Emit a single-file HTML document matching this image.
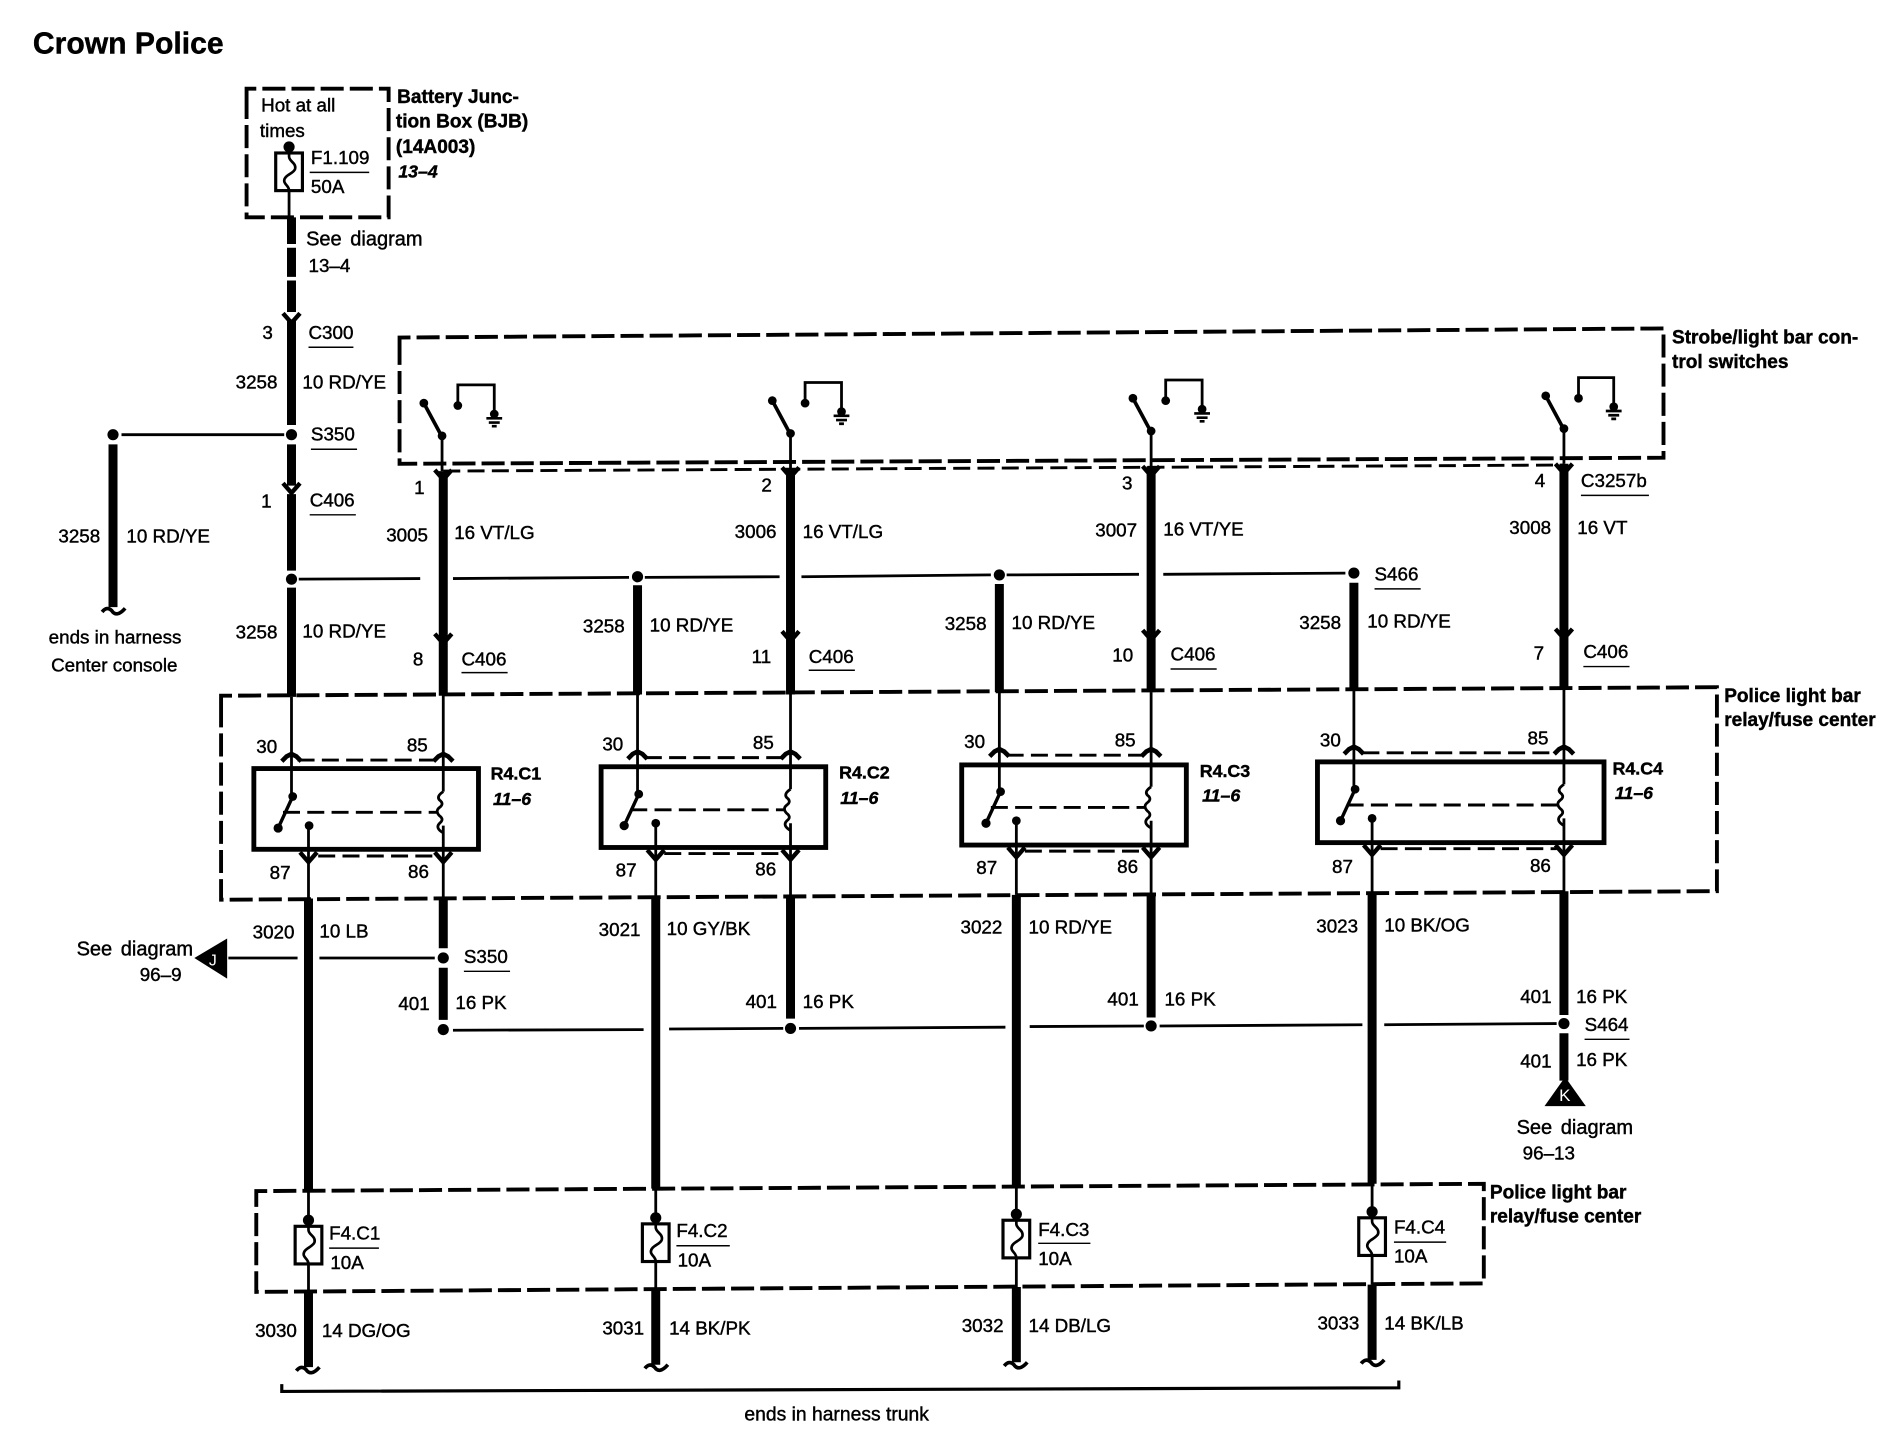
<!DOCTYPE html>
<html lang="en"><head><meta charset="utf-8"><title>Crown Police</title>
<style>
html,body{margin:0;padding:0;background:#fff;width:1904px;height:1440px;overflow:hidden}
svg{display:block}
text{font-family:"Liberation Sans",sans-serif;font-size:15.5px;fill:#000;stroke:#000;stroke-width:.35}
.b{font-weight:bold;font-size:15.7px;stroke-width:.35}
.c{font-weight:bold;font-size:14.7px;stroke-width:.35}
.i{font-weight:bold;font-style:italic;font-size:14.6px;stroke-width:.35}
.t{font-weight:bold;font-size:24.8px;stroke-width:.35}
.w{font-size:16.5px;word-spacing:2.5px}
.th{fill:none;stroke:#000;stroke-width:7.4}
.tn{fill:none;stroke:#000;stroke-width:2.3}
.bx{fill:none;stroke:#000;stroke-width:3.2;stroke-dasharray:19 5}
.sd{fill:none;stroke:#000;stroke-width:2.4;stroke-dasharray:14 6}
.u{fill:none;stroke:#000;stroke-width:1.2}
.r{fill:none;stroke:#000;stroke-width:4}
</style></head><body>
<svg xmlns="http://www.w3.org/2000/svg" width="1904" height="1440" viewBox="0 0 1568 1186">
<defs>
<polyline id="ad" points="-7,-8 0,0 7,-8" fill="none" stroke="#000" stroke-width="3.6"/>
<polyline id="au" points="-8,5 -4,1 0,-1 4,1 8,5" fill="none" stroke="#000" stroke-width="3.8"/>
<path id="wg" d="M-10 1 Q-6 -4 -2 0 Q2 6 9 -2" fill="none" stroke="#000" stroke-width="3"/>
<g id="gnd"><circle cx="0" cy="5" r="3.6"/><path d="M-6.5 8.5H6.5M-4.5 12H4.5M-2 15H2" fill="none" stroke="#000" stroke-width="2.2"/></g>
<g id="fu"><rect x="-11" y="0" width="22" height="31" fill="#fff" stroke="#000" stroke-width="2.6"/>
<path d="M0 -4V3C0 7 6 8 5 13C4 17 -4 18 -4 23C-4 26 0 27 0 31" fill="none" stroke="#000" stroke-width="2.2"/>
<circle cx="0" cy="-5" r="4.6"/></g>
<g id="sw"><path d="M-1 -1L-15 -27" fill="none" stroke="#000" stroke-width="3"/><circle cx="0" cy="0" r="3.6"/><circle cx="-15" cy="-27" r="3.6"/></g>
<g id="lv"><path d="M0 0L-12 26" fill="none" stroke="#000" stroke-width="2.8"/><circle cx="0" cy="0" r="3.6"/><circle cx="-12" cy="26" r="3.8"/></g>
<path id="co" d="M0 -6Q-6 -2 -3 1Q1 4 -3 7Q-7 10 -3 14Q1 17 -3 20Q-7 24 0 28" fill="none" stroke="#000" stroke-width="2.3"/>
</defs>
<rect width="1568" height="1186" fill="#fff"/>

<text class="t" x="27" y="44">Crown Police</text>

<!-- BJB -->
<path class="bx" d="M203 84V73H320V179H203V84"/>
<text x="215" y="92">Hot at all</text><text x="214" y="113">times</text>
<use href="#fu" x="238" y="126"/>
<path class="tn" d="M238 157V180"/>
<text x="256" y="135">F1.109</text><path class="u" d="M255 142H304"/><text x="256" y="159">50A</text>
<text class="b" x="327" y="85">Battery Junc-</text><text class="b" x="326" y="105">tion Box (BJB)</text><text class="b" x="326" y="126">(14A003)</text><text class="i" x="328" y="146">13–4</text>
<path class="th" d="M240 179V201M240 204V228M240 231V257M240 263V350M240 366V400M240 407V470M240 484V574"/>
<text class="w" x="252" y="202">See diagram</text><text x="254" y="224">13–4</text>
<use href="#ad" x="240" y="266"/><text x="216" y="279">3</text>
<text x="254" y="279">C300</text><path class="u" d="M254 286H291"/>
<text x="194" y="320">3258</text><text x="249" y="320">10 RD/YE</text>
<circle cx="240" cy="358" r="4.6"/><path class="tn" d="M100 358H234"/>
<circle cx="93" cy="358" r="4.6"/>
<text x="256" y="363">S350</text><path class="u" d="M256 370H294"/>
<path class="th" d="M93 366V500"/><use href="#wg" x="94" y="503"/>
<text x="48" y="447">3258</text><text x="104" y="447">10 RD/YE</text>
<text x="40" y="530">ends in harness</text><text x="42" y="553">Center console</text>
<use href="#ad" x="240" y="406"/><text x="215" y="418">1</text>
<text x="255" y="417">C406</text><path class="u" d="M255 424H293"/>
<text x="194" y="526">3258</text><text x="249" y="525">10 RD/YE</text>

<!-- bus S466 -->
<circle cx="240" cy="477" r="4.6"/><circle cx="525" cy="475" r="4.6"/><circle cx="823" cy="473.5" r="4.6"/><circle cx="1115" cy="472" r="4.6"/>
<path class="tn" d="M246 477L346 476.5M373 476.5L518 475.5M531 475.5L642 475M660 475L816 473.5M829 473.5L938 473M958 473L1108 472"/>
<text x="1132" y="478">S466</text><path class="u" d="M1132 485H1170"/>

<!-- strobe box -->
<path class="bx" d="M329 288V278L1370 270.5V377L329 382V288"/>
<text class="b" x="1377" y="283">Strobe/light bar con-</text><text class="b" x="1377" y="303">trol switches</text>
<path class="sd" d="M365 388L1288 383"/>

<!-- switches -->
<use href="#sw" x="364" y="359"/><path class="tn" d="M364 359V388M377 335V317H407V342"/><circle cx="377" cy="334" r="3.6"/><use href="#gnd" x="407" y="336"/>
<use href="#sw" x="651" y="357"/><path class="tn" d="M651 357V386M663 333V315H693V340"/><circle cx="663" cy="332" r="3.6"/><use href="#gnd" x="693" y="334"/>
<use href="#sw" x="948" y="355"/><path class="tn" d="M948 355V384M960 331V313H990V338"/><circle cx="960" cy="330" r="3.6"/><use href="#gnd" x="990" y="332"/>
<use href="#sw" x="1288" y="353"/><path class="tn" d="M1288 353V382M1300 329V311H1329V336"/><circle cx="1300" cy="328" r="3.6"/><use href="#gnd" x="1329" y="330"/>
<use href="#ad" x="365" y="395"/><use href="#ad" x="651" y="393"/><use href="#ad" x="948" y="392"/><use href="#ad" x="1288" y="390"/>

<!-- upper thick wires -->
<path class="th" d="M365 388V573M651 386V572M948 384V570M1288 382V568M525 482V572M823 481V570M1115 480V568"/>
<use href="#ad" x="365" y="530"/><use href="#ad" x="651" y="528"/><use href="#ad" x="948" y="527"/><use href="#ad" x="1288" y="526"/>

<text x="341" y="407">1</text><text x="318" y="446">3005</text><text x="374" y="444">16 VT/LG</text><text x="340" y="548">8</text><text x="380" y="548">C406</text><path class="u" d="M380 554H418"/>
<text x="627" y="405">2</text><text x="605" y="443">3006</text><text x="661" y="443">16 VT/LG</text><text x="619" y="546">11</text><text x="666" y="546">C406</text><path class="u" d="M666 552H704"/>
<text x="924" y="403">3</text><text x="902" y="442">3007</text><text x="958" y="441">16 VT/YE</text><text x="916" y="545">10</text><text x="964" y="544">C406</text><path class="u" d="M964 551H1002"/>
<text x="1264" y="401">4</text><text x="1302" y="401">C3257b</text><path class="u" d="M1302 408H1358"/><text x="1243" y="440">3008</text><text x="1299" y="440">16 VT</text><text x="1263" y="543">7</text><text x="1304" y="542">C406</text><path class="u" d="M1304 549H1342"/>
<text x="480" y="521">3258</text><text x="535" y="520">10 RD/YE</text>
<text x="778" y="519">3258</text><text x="833" y="518">10 RD/YE</text>
<text x="1070" y="518">3258</text><text x="1126" y="517">10 RD/YE</text>

<!-- police relay box -->
<path class="bx" d="M182 583V573L1414 566V734L182 741V583"/>
<text class="b" x="1420" y="578">Police light bar</text><text class="b" x="1420" y="598">relay/fuse center</text>

<!-- relay 1 -->
<path class="tn" d="M240 574V656M365 573V652M365 680V741M254 680V741"/>
<rect class="r" x="209" y="633" width="185" height="66.5"/>
<use href="#lv" x="241" y="656"/><circle cx="254.5" cy="680" r="3.6"/><use href="#co" x="365" y="658"/>
<path class="sd" d="M233 669H361" stroke-dasharray="15 6"/><path class="sd" d="M245 626H358M262 705H358"/>
<use href="#au" x="240" y="622"/><use href="#au" x="365" y="622"/><use href="#ad" x="254" y="710"/><use href="#ad" x="365" y="710"/>
<text x="211" y="620">30</text><text x="335" y="619">85</text><text x="222" y="724">87</text><text x="336" y="723">86</text>
<text class="c" x="404" y="642">R4.C1</text><text class="i" x="406" y="663">11–6</text>
<!-- relay 2 -->
<path class="tn" d="M525 572V654M651 572V650M651 678V739M540 678V739"/>
<rect class="r" x="495" y="631.5" width="185" height="66.5"/>
<use href="#lv" x="526" y="654"/><circle cx="540" cy="678" r="3.6"/><use href="#co" x="651" y="656"/>
<path class="sd" d="M519 667H647"/><path class="sd" d="M531 624H645M547 703H645"/>
<use href="#au" x="525" y="620"/><use href="#au" x="651" y="620"/><use href="#ad" x="540" y="708"/><use href="#ad" x="651" y="708"/>
<text x="496" y="618">30</text><text x="620" y="617">85</text><text x="507" y="722">87</text><text x="622" y="721">86</text>
<text class="c" x="691" y="641">R4.C2</text><text class="i" x="692" y="662">11–6</text>
<!-- relay 3 -->
<path class="tn" d="M823 570V652M948 570V648M948 676V737M837 676V737"/>
<rect class="r" x="792" y="630" width="185" height="66"/>
<use href="#lv" x="824" y="652"/><circle cx="837" cy="676" r="3.6"/><use href="#co" x="948" y="654"/>
<path class="sd" d="M816 665H944"/><path class="sd" d="M829 622H942M844 701H942"/>
<use href="#au" x="823" y="618"/><use href="#au" x="948" y="618"/><use href="#ad" x="837" y="706"/><use href="#ad" x="948" y="706"/>
<text x="794" y="616">30</text><text x="918" y="615">85</text><text x="804" y="720">87</text><text x="920" y="719">86</text>
<text class="c" x="988" y="640">R4.C3</text><text class="i" x="990" y="660">11–6</text>
<!-- relay 4 -->
<path class="tn" d="M1115 568V650M1288 568V646M1288 674V735M1130 674V735"/>
<rect class="r" x="1085" y="627.5" width="236" height="66.5"/>
<use href="#lv" x="1116" y="650"/><circle cx="1130" cy="674" r="3.6"/><use href="#co" x="1288" y="652"/>
<path class="sd" d="M1109 663H1284"/><path class="sd" d="M1122 620H1282M1137 699H1282"/>
<use href="#au" x="1115" y="616"/><use href="#au" x="1288" y="616"/><use href="#ad" x="1130" y="704"/><use href="#ad" x="1288" y="704"/>
<text x="1087" y="615">30</text><text x="1258" y="613">85</text><text x="1097" y="719">87</text><text x="1260" y="718">86</text>
<text class="c" x="1328" y="638">R4.C4</text><text class="i" x="1330" y="658">11–6</text>

<!-- lower wires -->
<path class="th" d="M254 740V981M540 739V979M837 737V977M1130 735V975"/>
<path class="th" d="M365 740V781M365 797V840M651 739V839M948 737V838M1288 734V836M1288 851V890"/>
<circle cx="365" cy="789" r="4.6"/><circle cx="365" cy="848" r="4.6"/><circle cx="651" cy="847" r="4.6"/><circle cx="948" cy="845" r="4.6"/><circle cx="1288" cy="843" r="4.6"/>
<path class="tn" d="M373 848.5L530 848M551 847.5L645 847M658 847L828 846M848 845.5L942 845M955 845L1122 844M1140 844L1282 843"/>
<path class="tn" d="M188 789H245M263 789H358"/>
<polygon points="187,773 187,806 160,789"/><text x="172" y="795" style="fill:#fff;stroke:none;font-size:13px">J</text>
<polygon points="1289,887 1272,911 1306,911"/><text x="1284" y="907" style="fill:#fff;stroke:none;font-size:14px">K</text>
<text class="w" x="63" y="787">See diagram</text><text x="115" y="808">96–9</text>
<text x="208" y="773">3020</text><text x="263" y="772">10 LB</text>
<text x="382" y="793">S350</text><path class="u" d="M382 800H420"/>
<text x="328" y="832">401</text><text x="375" y="831">16 PK</text>
<text x="493" y="771">3021</text><text x="549" y="770">10 GY/BK</text><text x="614" y="830">401</text><text x="661" y="830">16 PK</text>
<text x="791" y="769">3022</text><text x="847" y="769">10 RD/YE</text><text x="912" y="828">401</text><text x="959" y="828">16 PK</text>
<text x="1084" y="768">3023</text><text x="1140" y="767">10 BK/OG</text>
<text x="1252" y="826">401</text><text x="1298" y="826">16 PK</text>
<text x="1305" y="849">S464</text><path class="u" d="M1305 856H1342"/>
<text x="1252" y="879">401</text><text x="1298" y="878">16 PK</text>
<text class="w" x="1249" y="934">See diagram</text><text x="1254" y="955">96–13</text>

<!-- fuse box -->
<path class="bx" d="M211 991V981L1222 975V1057L211 1064V991"/>
<text class="b" x="1227" y="987">Police light bar</text><text class="b" x="1227" y="1007">relay/fuse center</text>
<path class="tn" d="M254 981V1012M254 1040V1064M540 979V1010M540 1038V1062M837 977V1008M837 1036V1060M1130 975V1006M1130 1034V1058"/>
<use href="#fu" x="254" y="1010"/><use href="#fu" x="540" y="1008"/><use href="#fu" x="837" y="1005"/><use href="#fu" x="1130" y="1003"/>
<text x="271" y="1021">F4.C1</text><path class="u" d="M271 1028H312"/><text x="272" y="1045">10A</text>
<text x="557" y="1019">F4.C2</text><path class="u" d="M557 1026H601"/><text x="558" y="1043">10A</text>
<text x="855" y="1018">F4.C3</text><path class="u" d="M855 1024H898"/><text x="855" y="1042">10A</text>
<text x="1148" y="1016">F4.C4</text><path class="u" d="M1148 1023H1191"/><text x="1148" y="1040">10A</text>
<path class="th" d="M254 1064V1126M540 1062V1124M837 1060V1122M1130 1058V1120"/>
<use href="#wg" x="254" y="1128"/><use href="#wg" x="541" y="1126"/><use href="#wg" x="837" y="1124"/><use href="#wg" x="1131" y="1122"/>
<text x="210" y="1101">3030</text><text x="265" y="1101">14 DG/OG</text>
<text x="496" y="1099">3031</text><text x="551" y="1099">14 BK/PK</text>
<text x="792" y="1097">3032</text><text x="847" y="1097">14 DB/LG</text>
<text x="1085" y="1095">3033</text><text x="1140" y="1095">14 BK/LB</text>
<path d="M232 1140V1146L1152 1143V1137" fill="none" stroke="#000" stroke-width="2.6"/>
<text x="613" y="1170" style="font-size:15.9px">ends in harness trunk</text>
</svg>
</body></html>
